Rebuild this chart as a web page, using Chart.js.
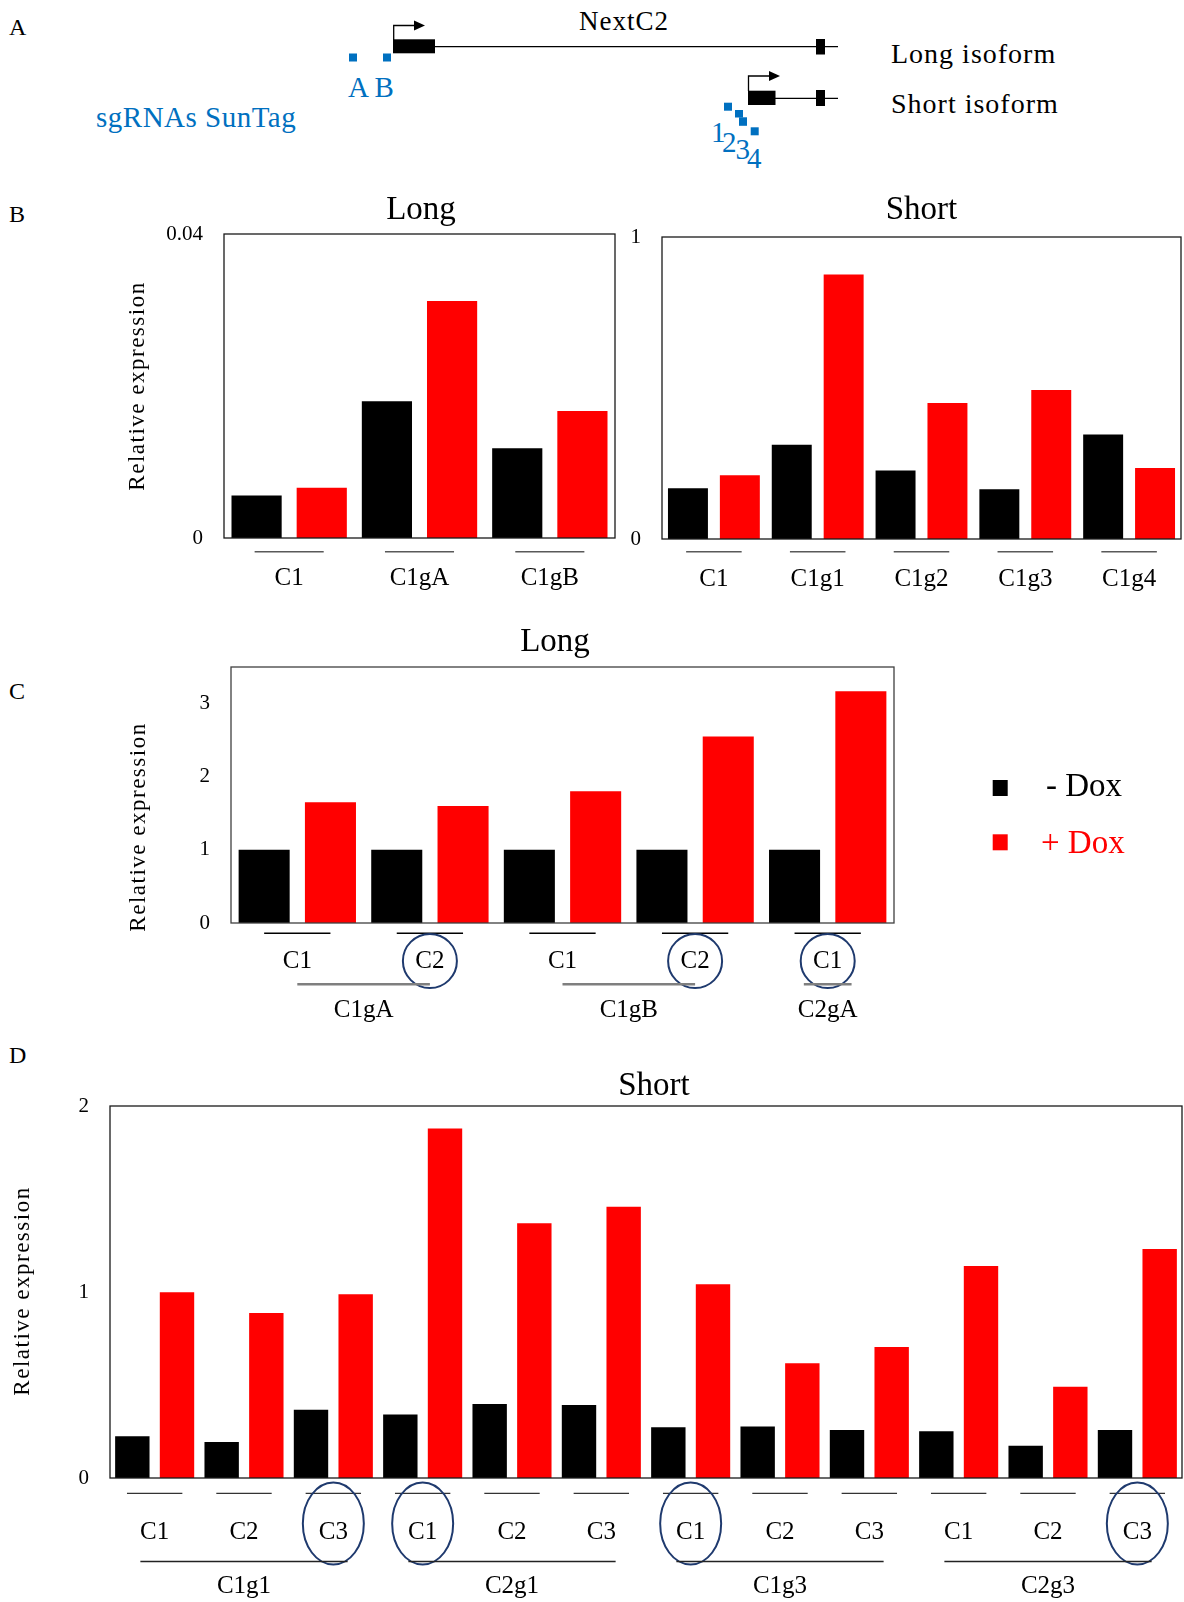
<!DOCTYPE html>
<html><head><meta charset="utf-8">
<script src="https://cdn.jsdelivr.net/npm/chart.js@4.4.1/dist/chart.umd.min.js"></script>
<style>
html,body{margin:0;padding:0;background:#fff;overflow:hidden;width:1184px;height:1602px;}
.wrap{position:absolute;left:0;}
#diagram{position:absolute;left:0;top:0;}
</style></head><body>
<svg id="diagram" width="1184" height="1602" xmlns="http://www.w3.org/2000/svg">
 <g font-family="Liberation Serif, Times New Roman, serif" fill="#000">
  <text x="9" y="35" font-size="24">A</text>
  <text x="9" y="222" font-size="24">B</text>
  <text x="9" y="699" font-size="24">C</text>
  <text x="9" y="1063" font-size="24">D</text>
  <text x="624" y="30" font-size="27" text-anchor="middle" letter-spacing="1">NextC2</text>
  <text x="891" y="62.7" font-size="28" letter-spacing="1">Long isoform</text>
  <text x="891" y="112.7" font-size="28" letter-spacing="1">Short isoform</text>
 </g>
 <line x1="435" y1="46.7" x2="838" y2="46.7" stroke="#000" stroke-width="1.3"/>
 <rect x="393" y="39.3" width="42" height="14" fill="#000"/>
 <rect x="816" y="39" width="9" height="15.5" fill="#000"/>
 <polyline points="393.7,40 393.7,25.5 416,25.5" fill="none" stroke="#000" stroke-width="1.3"/>
 <polygon points="414,20.5 425,25.5 414,30.5" fill="#000"/>
 <line x1="775" y1="98.3" x2="838" y2="98.3" stroke="#000" stroke-width="1.3"/>
 <rect x="748" y="90.7" width="27.5" height="14.3" fill="#000"/>
 <rect x="816" y="90" width="9" height="16" fill="#000"/>
 <polyline points="748.5,91 748.5,76 770,76" fill="none" stroke="#000" stroke-width="1.3"/>
 <polygon points="769,71 780,76 769,81" fill="#000"/>
 <g fill="#0070C0" font-family="Liberation Serif, Times New Roman, serif">
  <rect x="349" y="53.5" width="8" height="8"/>
  <rect x="383" y="53.5" width="8" height="8"/>
  <rect x="724" y="102.7" width="8" height="8"/>
  <rect x="735" y="110" width="8" height="7.5"/>
  <rect x="739" y="117.3" width="8" height="8.5"/>
  <rect x="750.7" y="127.3" width="8" height="8"/>
  <text x="348" y="96.7" font-size="29">A B</text>
  <text x="96" y="126.7" font-size="29" letter-spacing="0.5">sgRNAs SunTag</text>
  <text x="711" y="141.7" font-size="29">1</text>
  <text x="722" y="151.7" font-size="29">2</text>
  <text x="735.5" y="158.5" font-size="29">3</text>
  <text x="747" y="168" font-size="29">4</text>
 </g>
</svg>
<div class="wrap" id="wBL"><canvas id="cBL"></canvas></div>
<div class="wrap" id="wBS"><canvas id="cBS"></canvas></div>
<div class="wrap" id="wC"><canvas id="cC"></canvas></div>
<div class="wrap" id="wD"><canvas id="cD"></canvas></div>
<script>
// ---------- data ----------
const seriesLabels = ['- Dox', '+ Dox'];
const yTitle = 'Relative expression';

const bLongCategories = ['C1', 'C1gA', 'C1gB'];
const bLongMinusDox = [0.0056, 0.0180, 0.0118];
const bLongPlusDox  = [0.0066, 0.0312, 0.0167];
const bLongTicks = [0, 0.04];

const bShortCategories = ['C1', 'C1g1', 'C1g2', 'C1g3', 'C1g4'];
const bShortMinusDox = [0.168, 0.312, 0.227, 0.165, 0.346];
const bShortPlusDox  = [0.211, 0.876, 0.450, 0.493, 0.235];
const bShortTicks = [0, 1];

const cCategories = ['C1', 'C2', 'C1', 'C2', 'C1'];
const cMinusDox = [1, 1, 1, 1, 1];
const cPlusDox  = [1.65, 1.60, 1.80, 2.55, 3.17];
const cTicks = [0, 1, 2, 3];
const cGroups = ['C1gA', 'C1gB', 'C2gA'];
const cGroupSpans = [[0, 1], [2, 3], [4, 4]];
const cCircled = [1, 3, 4];

const dCategories = ['C1','C2','C3','C1','C2','C3','C1','C2','C3','C1','C2','C3'];
const dMinusDox = [0.225, 0.194, 0.367, 0.342, 0.398, 0.392, 0.273, 0.277, 0.258, 0.252, 0.173, 0.258];
const dPlusDox  = [0.998, 0.887, 0.988, 1.879, 1.369, 1.458, 1.042, 0.617, 0.704, 1.140, 0.490, 1.231];
const dTicks = [0, 1, 2];
const dGroups = ['C1g1', 'C2g1', 'C1g3', 'C2g3'];
const dGroupSpans = [[0, 2], [3, 5], [6, 8], [9, 11]];
const dCircled = [2, 3, 6, 11];

// ---------- drawing ----------
const FONT = "'Liberation Serif','Times New Roman',serif";

function makeDecor(cfg) {
  return {
    id: 'decor',
    afterDraw(chart) {
      const ctx = chart.ctx, a = chart.chartArea, xs = chart.scales.x;
      const n = chart.data.labels.length, w = xs.width / n;
      const px = i => xs.getPixelForValue(i);
      ctx.save();
      // frame
      ctx.strokeStyle = cfg.frameColor; ctx.lineWidth = 1.3;
      ctx.strokeRect(a.left, a.top, a.right - a.left, a.bottom - a.top);
      // title
      ctx.fillStyle = '#000'; ctx.font = '33px ' + FONT;
      ctx.textAlign = 'center'; ctx.textBaseline = 'alphabetic';
      ctx.fillText(cfg.title, (a.left + a.right) / 2 + cfg.titleDx, a.top - cfg.titleUp);
      // y axis title
      if (cfg.yTitleX != null) {
        ctx.save();
        ctx.translate(cfg.yTitleX, (a.top + a.bottom) / 2 + cfg.yTitleDy);
        ctx.rotate(-Math.PI / 2);
        ctx.font = '23px ' + FONT; ctx.letterSpacing = '1.5px';
        ctx.textAlign = 'center'; ctx.textBaseline = 'middle';
        ctx.fillText(yTitle, 0, 0);
        ctx.restore();
      }
      // underlines
      ctx.strokeStyle = cfg.ulColor; ctx.lineWidth = cfg.ulWidth;
      for (let i = 0; i < n; i++) {
        const y = a.bottom + cfg.ulOffset, half = w * cfg.ulFrac / 2;
        ctx.beginPath(); ctx.moveTo(px(i) - half, y); ctx.lineTo(px(i) + half, y); ctx.stroke();
      }
      // circles
      if (cfg.circled) {
        ctx.strokeStyle = '#1F3A6E'; ctx.lineWidth = 2;
        cfg.circled.forEach(i => {
          ctx.beginPath();
          ctx.ellipse(px(i), a.bottom + cfg.circDy, cfg.rx, cfg.ry, 0, 0, Math.PI * 2);
          ctx.stroke();
        });
      }
      // groups
      if (cfg.groups) {
        ctx.strokeStyle = cfg.gColor; ctx.lineWidth = cfg.gWidth;
        ctx.fillStyle = '#000'; ctx.font = '25px ' + FONT;
        ctx.textAlign = 'center'; ctx.textBaseline = 'middle';
        cfg.groups.forEach((g, k) => {
          const [s, e] = cfg.spans[k];
          const ext = (s === e ? cfg.gExtSingle : cfg.gExt) * w;
          const x1 = px(s) - ext, x2 = px(e) + ext, y = a.bottom + cfg.gOffset;
          ctx.beginPath(); ctx.moveTo(x1, y); ctx.lineTo(x2, y); ctx.stroke();
          ctx.fillText(g, (px(s) + px(e)) / 2, a.bottom + cfg.gLabelOffset);
        });
      }
      // legend
      if (cfg.legend) {
        const L = cfg.legend;
        chart.data.datasets.forEach((ds, k) => {
          ctx.fillStyle = ds.backgroundColor;
          ctx.fillRect(L.sqX, L.sqY[k], 15, 16);
          ctx.font = '33px ' + FONT; ctx.textAlign = 'left'; ctx.textBaseline = 'alphabetic';
          ctx.fillText(ds.label, L.textX[k], L.textY[k]);
        });
      }
      ctx.restore();
    }
  };
}

function makeChart(id, L, cats, minus, plus, yTicks, yMax, decor) {
  const wrap = document.getElementById('w' + id);
  const padL = L.areaLeft - L.Wy, padR = L.canvasWidth - L.areaRight, padT = L.areaTop - L.top;
  const h = L.areaBottom - L.top + L.Hx;
  wrap.style.top = L.top + 'px';
  wrap.style.width = L.canvasWidth + 'px';
  wrap.style.height = h + 'px';
  return new Chart(document.getElementById('c' + id), {
    type: 'bar',
    data: {
      labels: cats,
      datasets: [
        { label: seriesLabels[0], data: minus, backgroundColor: '#000000', borderWidth: 0 },
        { label: seriesLabels[1], data: plus, backgroundColor: '#FF0000', borderWidth: 0 }
      ]
    },
    options: {
      responsive: true, maintainAspectRatio: false, animation: false, devicePixelRatio: 1,
      layout: { padding: { left: padL, right: padR, top: padT, bottom: 0 } },
      datasets: { bar: { barPercentage: 0.77, categoryPercentage: 1.0 } },
      plugins: { legend: { display: false }, tooltip: { enabled: false }, title: { display: false } },
      scales: {
        x: {
          grid: { display: false, drawTicks: false }, border: { display: false },
          ticks: { autoSkip: false, maxRotation: 0, minRotation: 0, padding: L.xPad, color: '#000',
                   font: { family: FONT, size: 25, lineHeight: 1.2 } },
          afterFit: s => { s.height = L.Hx; }
        },
        y: {
          min: 0, max: yMax,
          grid: { display: false, drawTicks: false }, border: { display: false },
          ticks: { padding: 21, color: '#000', font: { family: FONT, size: 21 }, callback: v => String(v) },
          afterBuildTicks: s => { s.ticks = yTicks.map(v => ({ value: v })); },
          afterFit: s => { s.width = L.Wy; }
        }
      }
    },
    plugins: [makeDecor(decor)]
  });
}

makeChart('BL',
  { top: 180, areaLeft: 224, areaRight: 615, areaTop: 234, areaBottom: 538, canvasWidth: 640, Wy: 60, Hx: 72, xPad: 25.5 },
  bLongCategories, bLongMinusDox, bLongPlusDox, bLongTicks, 0.04,
  { frameColor: '#1a1a1a', title: 'Long', titleDx: 1.5, titleUp: 15, yTitleX: 138, yTitleDy: 0,
    ulColor: '#595959', ulWidth: 1.5, ulOffset: 13.7, ulFrac: 0.53 });

makeChart('BS',
  { top: 180, areaLeft: 662, areaRight: 1181, areaTop: 237, areaBottom: 539, canvasWidth: 1200, Wy: 40, Hx: 72, xPad: 25 },
  bShortCategories, bShortMinusDox, bShortPlusDox, bShortTicks, 1,
  { frameColor: '#1a1a1a', title: 'Short', titleDx: 0, titleUp: 17.7, yTitleX: null,
    ulColor: '#595959', ulWidth: 1.5, ulOffset: 12.7, ulFrac: 0.535 });

makeChart('C',
  { top: 610, areaLeft: 231, areaRight: 894, areaTop: 667, areaBottom: 923, canvasWidth: 1200, Wy: 60, Hx: 100, xPad: 23.7 },
  cCategories, cMinusDox, cPlusDox, cTicks, 3.5,
  { frameColor: '#404040', title: 'Long', titleDx: -7.5, titleUp: 16, yTitleX: 139, yTitleDy: 32,
    ulColor: '#000', ulWidth: 1.5, ulOffset: 10.3, ulFrac: 0.5,
    circled: cCircled, circDy: 38, rx: 27, ry: 27,
    groups: cGroups, spans: cGroupSpans, gColor: '#7f7f7f', gWidth: 2.5, gExt: 0, gExtSingle: 0.18,
    gOffset: 61.3, gLabelOffset: 87,
    legend: { sqX: 992.7, sqY: [780 - 610, 834.3 - 610], textX: [1046, 1041], textY: [796 - 610, 853 - 610] } });

makeChart('D',
  { top: 1030, areaLeft: 110, areaRight: 1182, areaTop: 1106, areaBottom: 1478, canvasWidth: 1200, Wy: 60, Hx: 124, xPad: 39 },
  dCategories, dMinusDox, dPlusDox, dTicks, 2,
  { frameColor: '#1a1a1a', title: 'Short', titleDx: 8, titleUp: 11.5, yTitleX: 23, yTitleDy: -1,
    ulColor: '#333', ulWidth: 1.3, ulOffset: 15.4, ulFrac: 0.62,
    circled: dCircled, circDy: 45.5, rx: 30.5, ry: 41,
    groups: dGroups, spans: dGroupSpans, gColor: '#222', gWidth: 1.3, gExt: 0.16, gExtSingle: 0.16,
    gOffset: 83.5, gLabelOffset: 108.6 });
</script>
</body></html>
